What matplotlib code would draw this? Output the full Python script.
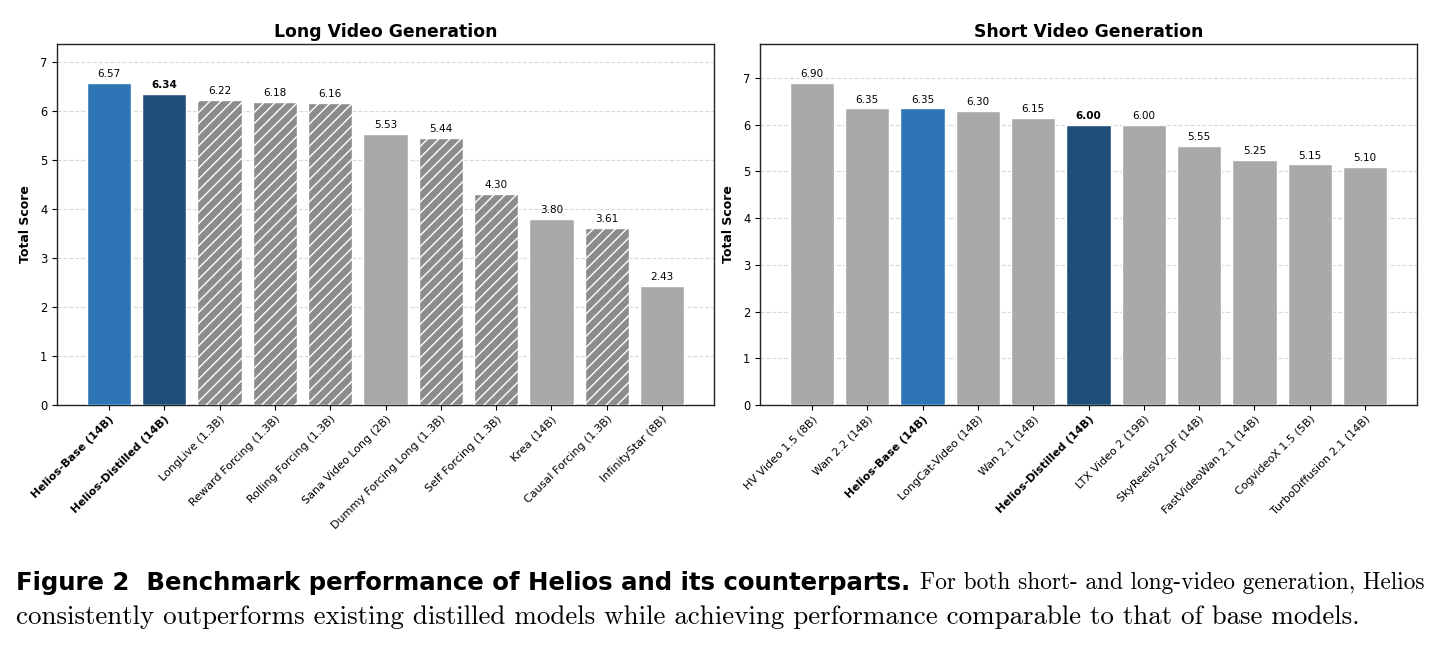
import matplotlib
matplotlib.use("Agg")
import matplotlib.pyplot as plt

long_models = ["Helios-Base (14B)", "Helios-Distilled (14B)", "LongLive (1.3B)", "Reward Forcing (1.3B)",
               "Rolling Forcing (1.3B)", "Sana Video Long (2B)", "Dummy Forcing Long (1.3B)",
               "Self Forcing (1.3B)", "Krea (14B)", "Causal Forcing (1.3B)", "InfinityStar (8B)"]
long_scores = [6.57, 6.34, 6.22, 6.18, 6.16, 5.53, 5.44, 4.30, 3.80, 3.61, 2.43]
long_kind = ["base", "distilled", "hatch", "hatch", "hatch", "plain", "hatch", "hatch", "plain", "hatch", "plain"]

short_models = ["HV Video 1.5 (8B)", "Wan 2.2 (14B)", "Helios-Base (14B)", "LongCat-Video (14B)",
                "Wan 2.1 (14B)", "Helios-Distilled (14B)", "LTX Video 2 (19B)", "SkyReelsV2-DF (14B)",
                "FastVideoWan 2.1 (14B)", "CogvideoX 1.5 (5B)", "TurboDiffusion 2.1 (14B)"]
short_scores = [6.90, 6.35, 6.35, 6.30, 6.15, 6.00, 6.00, 5.55, 5.25, 5.15, 5.10]
short_kind = ["plain", "plain", "base", "plain", "plain", "distilled", "plain", "plain", "plain", "plain", "plain"]

caption_bold = "Figure 2  Benchmark performance of Helios and its counterparts."
caption_rest1 = "For both short- and long-video generation, Helios"
caption_rest2 = ("consistently outperforms existing distilled models while achieving performance "
                 "comparable to that of base models.")

colors = {"base": "#2e75b6", "distilled": "#1f4e79", "hatch": "#8c8c8c", "plain": "#a9a9a9"}

fig = plt.figure(figsize=(14.42, 6.48), dpi=100)
ax1 = fig.add_axes([57/1442, 1-405/648, 657/1442, 361/648])
ax2 = fig.add_axes([760/1442, 1-405/648, 657/1442, 361/648])

def draw(ax, models, scores, kinds, title):
    x = list(range(len(models)))
    for i, (s, k) in enumerate(zip(scores, kinds)):
        ax.bar(i, s, width=0.8, color=colors[k], edgecolor="white", linewidth=1,
               hatch="///" if k == "hatch" else None, zorder=3)
        ax.text(i, s + max(scores) * 0.012, f"{s:.2f}", ha="center", va="bottom",
                fontsize=7.5, fontweight="bold" if k == "distilled" else "normal", zorder=4)
    ax.set_ylim(0, max(scores) * 1.12)
    ax.set_xticks(x)
    ax.set_xticklabels(models, rotation=45, ha="right", rotation_mode="anchor", fontsize=8.0)
    for lbl, k in zip(ax.get_xticklabels(), kinds):
        if k in ("base", "distilled"):
            lbl.set_fontweight("bold")
    ax.tick_params(axis="y", labelsize=8.3)
    ax.tick_params(axis="x", pad=3)
    ax.set_ylabel("Total Score", fontsize=9, fontweight="bold", labelpad=6)
    ax.set_title(title, fontsize=12.4, fontweight="bold", pad=5)
    ax.yaxis.grid(True, linestyle="--", color="#d0d0d0", alpha=0.8, linewidth=0.8, zorder=0)
    ax.set_axisbelow(True)
    for sp in ax.spines.values():
        sp.set_linewidth(1.0)
        sp.set_color("#222222")

draw(ax1, long_models, long_scores, long_kind, "Long Video Generation")
draw(ax2, short_models, short_scores, short_kind, "Short Video Generation")

# caption
fig.canvas.draw()
renderer = fig.canvas.get_renderer()

def fit(t, target_px):
    w = t.get_window_extent(renderer).width
    t.set_fontsize(t.get_fontsize() * target_px / w)

t1 = fig.text(16/1442, 1-583/648, caption_bold, fontsize=14, fontweight="bold",
              family="DejaVu Sans", va="center", ha="left")
fit(t1, 902)
t3 = fig.text(16/1442, 1-617/648, caption_rest2, fontsize=15, family="cmr10", va="center", ha="left")
fit(t3, 1350)
bb = t1.get_window_extent(renderer)
t2 = fig.text((bb.x1 + 10) / fig.bbox.width, 1-583/648, caption_rest1,
              fontsize=15, family="cmr10", va="center", ha="left")
fit(t2, 1428 - (bb.x1 + 10))

fig.savefig("out.png", dpi=100)
